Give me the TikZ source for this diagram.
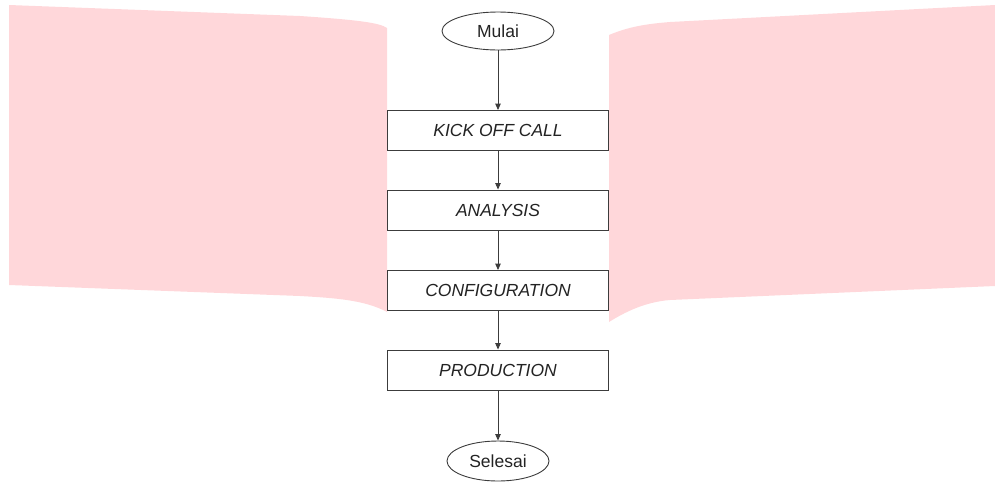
\documentclass[tikz,border=0pt]{standalone}
\usepackage{fontspec}
\setmainfont{Liberation Sans}
\usepackage{tikz}
\usetikzlibrary{shapes,arrows.meta,positioning}
\usepackage{xcolor}
\definecolor{bgpink}{RGB}{255,215,218}
\definecolor{linegray}{RGB}{60,60,60}
\definecolor{textgray}{RGB}{35,35,35}

\begin{document}
\begin{tikzpicture}[>={Triangle[length=6.5pt,width=5.5pt]}, x=1pt, y=-1pt]
    % Define style for the nodes
    \tikzstyle{end node} = [ellipse, draw=linegray, line width=0.9pt, inner sep=0pt, text=textgray, font=\fontsize{17.5}{20}\selectfont]
    \tikzstyle{step node} = [rectangle, draw=linegray, line width=0.9pt, minimum width=221pt, minimum height=40pt, inner sep=0pt, text=textgray, font=\fontsize{17.5}{20}\selectfont\itshape]
    \tikzstyle{flow} = [->, draw=linegray, line width=0.9pt]

    \useasboundingbox (0,0) rectangle (995,483);

    % Pink panels behind
    \fill[bgpink] (9,5) -- (300,16) .. controls (360,20) and (380,23) .. (387,28)
        -- (387,312) .. controls (365,300) and (335,298) .. (300,296) -- (9,285) -- cycle;
    \fill[bgpink] (609,35) .. controls (628,27) and (645,24) .. (670,22) -- (995,5)
        -- (995,286) -- (670,300) .. controls (645,302) and (625,312) .. (609,322) -- cycle;

    % Nodes
    \node[end node, minimum width=112pt, minimum height=38pt] (mulai) at (498,31) {Mulai};
    \node[step node] (kickoff) at (498,130.5) {KICK OFF CALL};
    \node[step node] (analysis) at (498,210) {ANALYSIS};
    \node[step node] (config) at (498,290.5) {CONFIGURATION};
    \node[step node] (production) at (498,370) {PRODUCTION};
    \node[end node, minimum width=102pt, minimum height=40pt] (selesai) at (498,461) {Selesai};

    % Arrows
    \draw[flow] (mulai) -- (kickoff);
    \draw[flow] (kickoff) -- (analysis);
    \draw[flow] (analysis) -- (config);
    \draw[flow] (config) -- (production);
    \draw[flow] (production) -- (selesai);
\end{tikzpicture}
\end{document}
